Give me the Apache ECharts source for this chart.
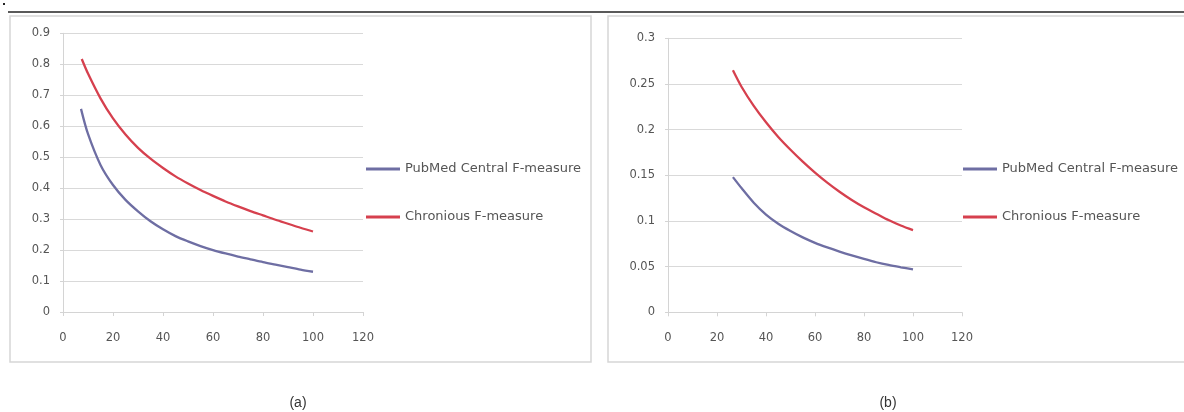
<!DOCTYPE html>
<html><head><meta charset="utf-8">
<script src="https://cdn.jsdelivr.net/npm/echarts@6/dist/echarts.min.js"></script>
<style>html,body{margin:0;padding:0;background:#fff}#c{width:1184px;height:412px}</style>
</head><body><div id="c"></div>
<script>
// Panel (a)
const aPubMed = [[7.2,0.656],[10,0.575],[15,0.475],[20,0.41],[25,0.362],[30,0.325],[35,0.293],[40,0.267],[45,0.245],[50,0.228],[55,0.213],[60,0.2],[65,0.189],[70,0.179],[75,0.17],[80,0.161],[85,0.153],[90,0.145],[95,0.137],[100,0.13]];
const aChronious = [[7.5,0.817],[10,0.77],[15,0.69],[20,0.625],[25,0.573],[30,0.53],[35,0.495],[40,0.465],[45,0.438],[50,0.415],[55,0.394],[60,0.375],[65,0.357],[70,0.341],[75,0.326],[80,0.312],[85,0.298],[90,0.285],[95,0.272],[100,0.26]];
// Panel (b)
const bPubMed = [[26.5,0.148],[30,0.136],[35,0.12],[40,0.107],[45,0.097],[50,0.089],[55,0.082],[60,0.076],[65,0.071],[70,0.0665],[75,0.0623],[80,0.0584],[85,0.0548],[90,0.0518],[95,0.0493],[100,0.047]];
const bChronious = [[26.5,0.265],[30,0.247],[35,0.226],[40,0.208],[45,0.192],[50,0.178],[55,0.165],[60,0.153],[65,0.142],[70,0.132],[75,0.123],[80,0.115],[85,0.108],[90,0.101],[95,0.095],[100,0.09]];
const seriesNames = ['PubMed Central F-measure','Chronious F-measure'];
const panelLabels = ['(a)','(b)'];

const blue = '#6e6ea3', red = '#d6404e';
const labelFont = {color:'#555', fontSize:11.5, fontFamily:'DejaVu Sans'};
function xAx(i){return {gridIndex:i,type:'value',min:0,max:120,interval:20,
  axisLine:{show:true,lineStyle:{color:'#d4d4d4'}},axisTick:{show:true,length:4,lineStyle:{color:'#d4d4d4'}},
  splitLine:{show:false},axisLabel:Object.assign({margin:20},labelFont)};}
function yAx(i,max,int){return {gridIndex:i,type:'value',min:0,max:max,interval:int,
  axisLine:{show:true,lineStyle:{color:'#d4d4d4'}},axisTick:{show:true,length:3,lineStyle:{color:'#d4d4d4'}},
  splitLine:{show:true,lineStyle:{color:'#d9d9d9'}},axisLabel:Object.assign({margin:13},labelFont)};}
function ser(name,data,i,color){return {name:name,type:'line',xAxisIndex:i,yAxisIndex:i,data:data,smooth:0.3,
  showSymbol:false,lineStyle:{color:color,width:2.3},itemStyle:{color:color}};}
function leg(left,top){return {data:seriesNames,orient:'vertical',left:left,top:top,itemWidth:34,itemHeight:3,itemGap:34,
  icon:'rect',selectedMode:false,textStyle:{color:'#555',fontSize:13,fontFamily:'DejaVu Sans',lineHeight:14}};}

const chart = echarts.init(document.getElementById('c'));
chart.setOption({
  animation:false,
  grid:[{left:63,top:33.3,width:300,height:278.7},{left:668,top:38.3,width:294,height:274}],
  xAxis:[xAx(0),xAx(1)],
  yAxis:[yAx(0,0.9,0.1),yAx(1,0.3,0.05)],
  legend:[leg(361,157),leg(958,157)],
  series:[ser(seriesNames[0],aPubMed,0,blue),ser(seriesNames[1],aChronious,0,red),
          ser(seriesNames[0],bPubMed,1,blue),ser(seriesNames[1],bChronious,1,red)],
  graphic:[
    {type:'rect',shape:{x:10,y:16,width:581,height:346},style:{fill:'none',stroke:'#d6d6d6',lineWidth:1.5},z:-1},
    {type:'rect',shape:{x:608,y:16,width:590,height:346},style:{fill:'none',stroke:'#d6d6d6',lineWidth:1.5},z:-1},
    {type:'line',shape:{x1:8,y1:12,x2:1184,y2:12},style:{stroke:'#5a5a5a',lineWidth:2}},
    {type:'rect',shape:{x:3,y:3,width:2,height:2},style:{fill:'#222'}},
    {type:'text',x:298,y:403,style:{text:panelLabels[0],fill:'#333',font:'14px "Liberation Sans"',align:'center',verticalAlign:'middle'}},
    {type:'text',x:888,y:403,style:{text:panelLabels[1],fill:'#333',font:'14px "Liberation Sans"',align:'center',verticalAlign:'middle'}}
  ]
});
</script></body></html>
